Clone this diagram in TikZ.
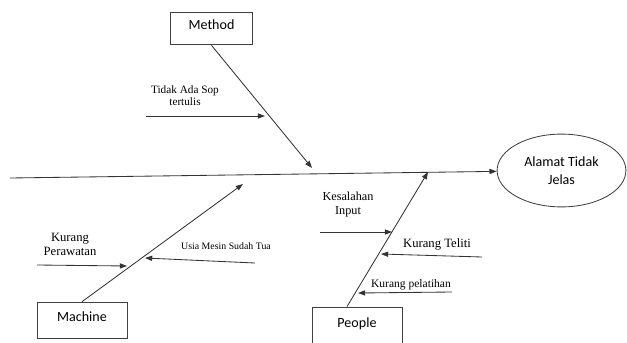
\documentclass[tikz,border=0pt]{standalone}
\usepackage{fontspec}
\setmainfont{Liberation Serif}
\setsansfont{Carlito}
\usetikzlibrary{arrows.meta,positioning,calc,shapes.geometric}

\begin{document}
\begin{tikzpicture}[x=0.025cm,y=-0.025cm,
  box/.style={draw=black!75,line width=0.6pt,inner sep=0pt,text height=6pt,text depth=5pt,font=\sffamily\fontsize{10}{12}\selectfont},
  goal/.style={ellipse,draw=black!75,line width=0.6pt,minimum width=3.22cm,minimum height=1.82cm,inner sep=0pt,align=center,font=\sffamily\fontsize{10}{12.5}\selectfont},
  lab/.style={align=center,inner sep=0pt,font=\fontsize{8.5}{10}\selectfont},
  arr/.style={-{Triangle[length=1.8mm,width=1.3mm]},line width=0.6pt,black!80}]
\useasboundingbox (0,0) rectangle (627,343);
\node[box,minimum width=2.07cm,minimum height=0.82cm] (method) at (211.5,28.5) {Method};
\node[box,minimum width=2.25cm,minimum height=0.92cm] (machine) at (82,320.5) {Machine};
\node[box,minimum width=2.25cm,minimum height=1cm] (people) at (357,327) {People};
\node[goal] (alamat) at (561.5,170.5) {Alamat Tidak\\Jelas};
% spine and bones
\coordinate (tail) at (10,178);
\coordinate (mh) at (312,168);
\coordinate (mc) at (243,184);
\coordinate (pp) at (428,172);
\draw[arr] (tail) -- (alamat);
\draw[arr] (method.south) -- (mh);
\draw[arr] (machine.north) -- (mc);
\draw[arr] ($(people.north west)!0.39!(people.north east)$) -- (pp);
% causes
\node[lab,font=\fontsize{8}{8.6}\selectfont] (sop) at (185,96) {Tidak Ada Sop\\tertulis};
\coordinate (sop1) at (146,116); \coordinate (sop2) at (265,116);
\draw[arr] (sop1) -- (sop2);
\node[lab,font=\fontsize{9}{10}\selectfont] (rawat) at (70,244) {Kurang\\Perawatan};
\coordinate (rawat1) at (37,265); \coordinate (rawat2) at (127,266);
\draw[arr] (rawat1) -- (rawat2);
\node[lab,font=\fontsize{7}{8}\selectfont] (usia) at (226,246) {Usia Mesin Sudah Tua};
\coordinate (usia1) at (255,263); \coordinate (usia2) at (145,258);
\draw[arr] (usia1) -- (usia2);
\node[lab,font=\fontsize{8.7}{10.5}\selectfont] (input) at (348,204.5) {Kesalahan\\Input};
\coordinate (input1) at (320,232); \coordinate (input2) at (392,232);
\draw[arr] (input1) -- (input2);
\node[lab,font=\fontsize{9}{10}\selectfont] (teliti) at (437,244) {Kurang Teliti};
\coordinate (teliti1) at (482,257); \coordinate (teliti2) at (381,254);
\draw[arr] (teliti1) -- (teliti2);
\node[lab,font=\fontsize{8.2}{10}\selectfont] (latih) at (411,285) {Kurang pelatihan};
\coordinate (latih1) at (452,292); \coordinate (latih2) at (358,293);
\draw[arr] (latih1) -- (latih2);
\end{tikzpicture}
\end{document}
